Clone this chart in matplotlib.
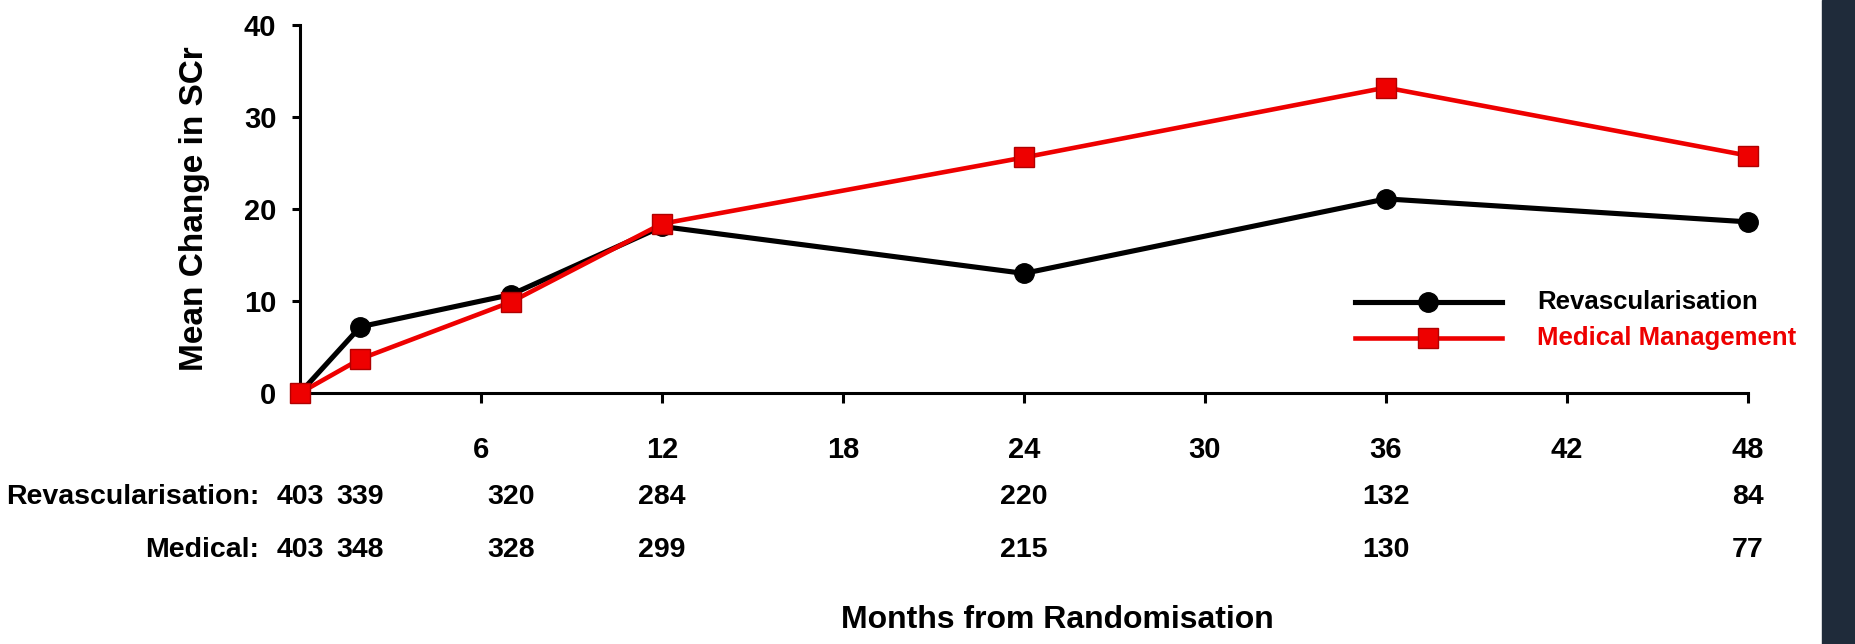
import matplotlib
matplotlib.use("Agg")
import matplotlib.pyplot as plt
from matplotlib.patches import Rectangle

# Follow-up months and mean change in serum creatinine
months = [0, 2, 7, 12, 24, 36, 48]
revasc = [0, 7.2, 10.7, 18.1, 13.0, 21.1, 18.6]
medical = [0, 3.7, 9.9, 18.4, 25.6, 33.2, 25.8]

# Patients at risk at each visit
revasc_n = [403, 339, 320, 284, 220, 132, 84]
medical_n = [403, 348, 328, 299, 215, 130, 77]

x_ticks = [6, 12, 18, 24, 30, 36, 42, 48]
y_ticks = [0, 10, 20, 30, 40]

FONT = "Liberation Sans"
plt.rcParams["font.family"] = [FONT, "DejaVu Sans"]
plt.rcParams["font.weight"] = "bold"

W, H, DPI = 1856, 644, 100
fig = plt.figure(figsize=(W / DPI, H / DPI), dpi=DPI)
fig.patch.set_facecolor("white")

# axes box: x 0..48 -> px 300..1748, y 0..40 -> px 393..25
ax = fig.add_axes([300 / W, 1 - 393 / H, (1748 - 300) / W, (393 - 25) / H])
ax.set_xlim(0, 48)
ax.set_ylim(0, 40)

RED = "#ee0000"
DARKRED = "#b00000"
LW_BLACK, LW_RED, MS = 3.7, 3.3, 14
ax.plot(months, revasc, color="black", lw=LW_BLACK, marker="o", ms=MS,
        mfc="black", mec="black", clip_on=False, zorder=3)
ax.plot(months, medical, color=RED, lw=LW_RED, marker="s", ms=MS,
        mfc=RED, mec=DARKRED, mew=1.0, clip_on=False, zorder=4)

for side in ("top", "right"):
    ax.spines[side].set_visible(False)
for side in ("left", "bottom"):
    ax.spines[side].set_linewidth(2.2)

ax.set_xticks(x_ticks)
ax.set_yticks(y_ticks)
ax.tick_params(axis="x", length=7, width=2.2, pad=24, labelsize=21)
ax.tick_params(axis="y", length=6, width=2.2, pad=11, labelsize=21)
for lab in ax.get_xticklabels() + ax.get_yticklabels():
    lab.set_fontweight("bold")

# y axis title
fig.text(195 / W, 1 - 209 / H, "Mean Change in SCr", rotation=90,
         ha="center", va="center", fontsize=24, fontweight="bold")

# numbers at risk rows
row_y = [1 - 497 / H, 1 - 550 / H]
fig.text(259 / W, row_y[0], "Revascularisation:", ha="right", va="center",
         fontsize=20.5, fontweight="bold")
fig.text(259 / W, row_y[1], "Medical:", ha="right", va="center",
         fontsize=20.5, fontweight="bold")
for m, a, b in zip(months, revasc_n, medical_n):
    xf = ax.transData.transform((m, 0))[0] / W
    fig.text(xf, row_y[0], str(a), ha="center", va="center",
             fontsize=20.5, fontweight="bold")
    fig.text(xf, row_y[1], str(b), ha="center", va="center",
             fontsize=20.5, fontweight="bold")

# x axis title
fig.text(1057 / W, 1 - 620 / H, "Months from Randomisation", ha="center",
         va="center", fontsize=23, fontweight="bold")

# legend drawn as lines with markers plus coloured labels
lx0, lx1, lxm = 1355 / W, 1502 / W, 1428 / W
for yy, col, mk, lw, mec in [(1 - 302 / H, "black", "o", LW_BLACK, "black"),
                             (1 - 338 / H, RED, "s", LW_RED, DARKRED)]:
    fig.add_artist(plt.Line2D([lx0, lx1], [yy, yy], color=col, lw=lw,
                              transform=fig.transFigure))
    fig.add_artist(plt.Line2D([lxm], [yy], color=col, marker=mk, ms=MS,
                              mfc=col, mec=mec, transform=fig.transFigure))
fig.text(1537 / W, 1 - 302 / H, "Revascularisation", ha="left", va="center",
         fontsize=18.5, fontweight="bold", color="black")
fig.text(1537 / W, 1 - 338 / H, "Medical Management", ha="left", va="center",
         fontsize=18.5, fontweight="bold", color=RED)

# dark band on the right edge
fig.add_artist(Rectangle((1822 / W, 0), 1 - 1822 / W, 1, color="#1f2b3a",
                         transform=fig.transFigure, zorder=0))

fig.savefig("out.png", dpi=DPI, facecolor="white")
